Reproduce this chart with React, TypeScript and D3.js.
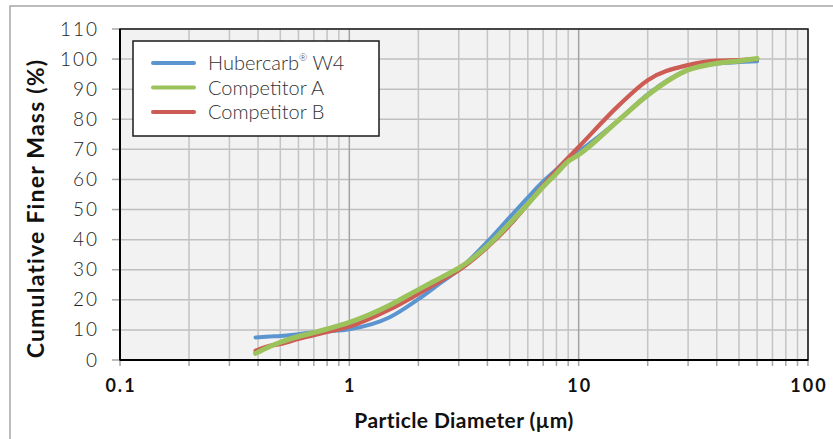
import React from 'react';
import * as d3 from 'd3';

// particle size (µm) where values were read
const sizes = [0.39, 0.45, 0.5, 0.6, 0.7, 0.8, 1, 1.5, 2, 2.5, 3, 4, 5, 6, 7, 8, 9, 10, 15, 20, 30, 40, 50, 60];
const hubercarb = [7.5, 7.8, 8.0, 8.6, 9.2, 9.5, 10.2, 14.2, 20.2, 25.6, 30, 39.3, 47.4, 54, 59.3, 63.3, 67, 69.3, 79.8, 88.3, 96.4, 98.5, 99, 99.3];
const competitorA = [2.2, 4.5, 5.9, 7.8, 9.1, 10.3, 12.5, 18.2, 23.4, 27.3, 30.5, 37.9, 45.4, 51.8, 57.6, 62, 66, 68.2, 79.8, 88, 96.4, 98.6, 99.4, 100.2];
const competitorB = [3.1, 4.7, 5.3, 7.0, 8.2, 9.3, 11.1, 16.8, 22, 26.3, 29.8, 37.5, 44.8, 51.8, 58, 63, 67.2, 70.8, 84.7, 93, 98, 99.5, 99.7, 100];

const seriesNames = ['Hubercarb', 'Competitor A', 'Competitor B'];
const yTicks = [0, 10, 20, 30, 40, 50, 60, 70, 80, 90, 100, 110];
const xLabels = [0.1, 1, 10, 100];

const width = 833,
  height = 439,
  marginTop = 29,
  marginRight = 25,
  marginBottom = 79,
  marginLeft = 120;

const font = 'Lato, "Open Sans", sans-serif';

export default function App() {
  const x = d3
    .scaleLog()
    .domain([0.1, 100])
    .range([marginLeft, width - marginRight]);
  const y = d3
    .scaleLinear()
    .domain([0, 110])
    .range([height - marginBottom, marginTop]);

  const line = d3
    .line<[number, number]>()
    .x((d) => x(d[0]))
    .y((d) => y(d[1]))
    .curve(d3.curveMonotoneX);

  const series = [
    { name: seriesNames[0], values: hubercarb, color: '#5b95cf', w: 4 },
    { name: seriesNames[1], values: competitorA, color: '#9cc25c', w: 5 },
    { name: seriesNames[2], values: competitorB, color: '#cd5c55', w: 4.2 },
  ];
  // draw order: blue, red, green on top
  const drawOrder = [series[0], series[2], series[1]];

  const gridX = x.ticks();
  const [x0, x1] = x.range();
  const [y0, y1] = y.range();

  return (
    <svg
      width={width}
      height={height}
      style={{ position: 'absolute', left: 0, top: 0, background: '#fff' }}
    >
      <rect x={10} y={6} width={840} height={460} fill="#fff" stroke="#a6a6a6" strokeWidth={1.5} />
      <rect x={x0} y={y1} width={x1 - x0} height={y0 - y1} fill="#f2f2f2" />
      {yTicks.map((t) => (
        <line key={'gy' + t} x1={x0} x2={x1} y1={y(t)} y2={y(t)} stroke="#bfbfbf" strokeWidth={1.5} />
      ))}
      {gridX.map((t) => {
        const major = xLabels.includes(+t.toPrecision(3));
        return (
          <line
            key={'gx' + t}
            x1={x(t)}
            x2={x(t)}
            y1={y1}
            y2={y0}
            stroke={major ? '#a3a3a3' : '#c4c4c4'}
            strokeWidth={1.5}
          />
        );
      })}
      {/* ticks */}
      {yTicks.map((t) => (
        <line key={'ty' + t} x1={x0 - 8} x2={x0} y1={y(t)} y2={y(t)} stroke="#a6a6a6" strokeWidth={1.5} />
      ))}
      {gridX.map((t) => (
        <line key={'tx' + t} x1={x(t)} x2={x(t)} y1={y0} y2={y0 + 6} stroke="#a6a6a6" strokeWidth={1.5} />
      ))}
      {/* frame */}
      <rect x={x0} y={y1} width={x1 - x0} height={y0 - y1} fill="none" stroke="#1a1a1a" strokeWidth={1.5} />
      <line x1={x0} x2={x0} y1={y1} y2={y0} stroke="#000" strokeWidth={2} />
      <line x1={x0} x2={x1} y1={y0} y2={y0} stroke="#000" strokeWidth={2} />

      {drawOrder.map((s) => (
        <path
          key={s.name}
          d={line(sizes.map((v, i) => [v, s.values[i]] as [number, number])) || ''}
          fill="none"
          stroke={s.color}
          strokeWidth={s.w}
          strokeLinecap="round"
          strokeLinejoin="round"
        />
      ))}

      {/* y tick labels */}
      {yTicks.map((t) => (
        <text
          key={'ly' + t}
          x={99}
          y={y(t) + 6.5}
          textAnchor="end"
          fontFamily={font}
          fontWeight={300}
          fontSize={19}
          letterSpacing={2}
          fill="#222"
        >
          {t}
        </text>
      ))}
      {/* x tick labels */}
      {xLabels.map((t) => (
        <text
          key={'lx' + t}
          x={x(t) + 1}
          y={392}
          textAnchor="middle"
          fontFamily={font}
          fontWeight={700}
          fontSize={18}
          letterSpacing={2}
          fill="#111"
        >
          {t}
        </text>
      ))}
      <text
        x={(x0 + x1) / 2}
        y={428}
        textAnchor="middle"
        fontFamily={font}
        fontWeight={700}
        fontSize={21}
        letterSpacing={0.4}
        fill="#111"
      >
        Particle Diameter (µm)
      </text>
      <text
        transform={`translate(44, ${(y0 + y1) / 2 + 14}) rotate(-90)`}
        textAnchor="middle"
        fontFamily={font}
        fontWeight={700}
        fontSize={23}
        letterSpacing={1.2}
        fill="#111"
      >
        Cumulative Finer Mass (%)
      </text>

      {/* legend */}
      <rect x={133} y={41} width={246} height={95} fill="#fff" stroke="#1a1a1a" strokeWidth={1.5} />
      {series.map((s, i) => (
        <g key={'lg' + s.name} transform={`translate(0, ${63 + i * 24.5})`}>
          <line x1={153} x2={194} y1={0} y2={0} stroke={s.color} strokeWidth={4} strokeLinecap="round" />
          <text x={208} y={7} fontFamily={font} fontWeight={300} fontSize={20} fill="#333">
            {i === 0 ? (
              <>
                Hubercarb
                <tspan fontSize={10} dy={-9}>®</tspan>
                <tspan dy={9}> W4</tspan>
              </>
            ) : (
              s.name
            )}
          </text>
        </g>
      ))}
    </svg>
  );
}
